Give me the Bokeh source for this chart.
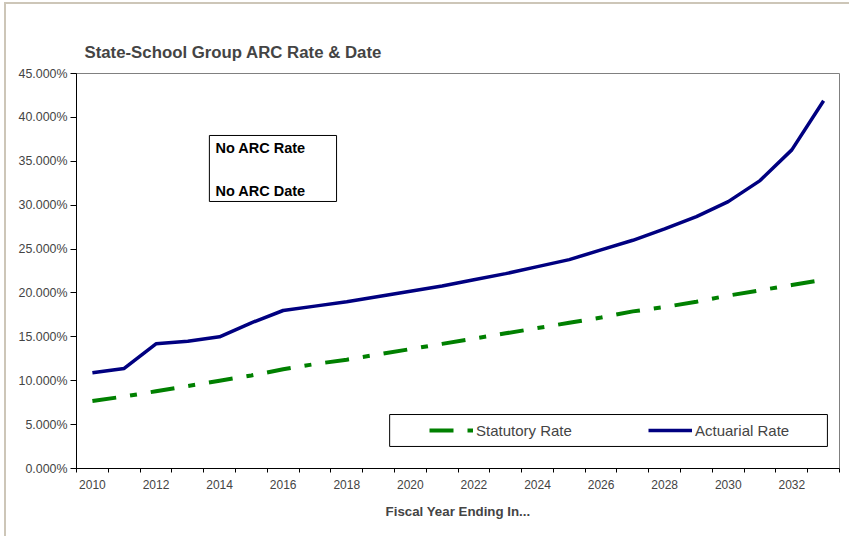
from bokeh.plotting import figure
from bokeh.models import (Range1d, FixedTicker, PrintfTickFormatter, Legend, LegendItem,
                          BoxAnnotation, Label)
from bokeh.embed import file_html
from bokeh.resources import INLINE

# ---- data ----
years = list(range(2010, 2034))
statutory_rate = [7.7, 8.2, 8.8, 9.4, 10.0, 10.6, 11.3, 11.9, 12.4, 13.0, 13.6, 14.2,
                  14.8, 15.4, 16.0, 16.6, 17.2, 17.9, 18.4, 19.0, 19.7, 20.3, 20.9, 21.5]
actuarial_rate = [10.9, 11.4, 14.2, 14.5, 15.0, 16.6, 18.0, 18.5, 19.0, 19.6, 20.2, 20.8,
                  21.5, 22.2, 23.0, 23.8, 24.9, 26.0, 27.3, 28.7, 30.4, 32.8, 36.3, 41.9]
x_tick_labels = list(range(2010, 2033, 2))
y_ticks = [0, 5, 10, 15, 20, 25, 30, 35, 40, 45]

FONT = "Liberation Sans"

p = figure(width=849, height=536, output_backend="svg", toolbar_location=None,
           x_range=Range1d(years[0] - 0.5, years[-1] + 0.5), y_range=Range1d(0, 45),
           min_border_left=76, min_border_right=10, min_border_top=73, min_border_bottom=68)

p.border_fill_color = None
p.background_fill_color = "white"
p.outline_line_color = "#808080"
p.outline_line_width = 1
p.grid.visible = False
p.styles = {"box-shadow": "inset 4px 2px 0 0 white, inset 6px 4px 0 0 #cdc6b8, "
                          "-1px -3px 0 0 white, -3px -5px 0 0 #b9b1a1"}

# title
p.title.text = "State-School Group ARC Rate & Date"
p.title.text_font = FONT
p.title.text_font_size = "16.8px"
p.title.text_font_style = "bold"
p.title.align = "left"
p.title.offset = 8
p.title.standoff = 23

# x axis
xa = p.xaxis[0]
xa.ticker = FixedTicker(ticks=x_tick_labels, minor_ticks=[y - 0.5 for y in years] + [years[-1] + 0.5])
xa.major_tick_line_color = None
xa.major_tick_out = 4
xa.major_tick_in = 0
xa.minor_tick_line_color = "black"
xa.minor_tick_out = 4
xa.minor_tick_in = 0
xa.axis_line_color = "black"
xa.major_label_text_font = FONT
xa.major_label_text_font_size = "12px"
xa.major_label_standoff = 7
xa.axis_label = "Fiscal Year Ending In..."
xa.axis_label_text_font = FONT
xa.axis_label_text_font_size = "13.3px"
xa.axis_label_text_font_style = "bold"
xa.axis_label_standoff = 12

# y axis
ya = p.yaxis[0]
ya.ticker = FixedTicker(ticks=y_ticks, minor_ticks=[])
ya.formatter = PrintfTickFormatter(format="%.3f%%")
ya.major_tick_out = 6
ya.major_tick_in = 0
ya.minor_tick_line_color = None
ya.axis_line_color = "black"
ya.major_label_text_font = FONT
ya.major_label_text_font_size = "12.4px"
ya.major_label_standoff = 3

# series
r_stat = p.line(years, statutory_rate, line_color="#008000", line_width=4,
                line_dash="24 14 7 14")
r_act = p.line(years, actuarial_rate, line_color="#000080", line_width=3.5)

# "No ARC" box
p.add_layout(BoxAnnotation(left=2013.68, right=2017.68, bottom=30.42, top=37.94,
                           fill_color="white", fill_alpha=1, line_color="black",
                           line_alpha=1, line_width=1))
for txt, yy in (("No ARC Rate", 36.46), ("No ARC Date", 31.56)):
    p.add_layout(Label(x=2013.87, y=yy, text=txt, text_font=FONT, text_font_size="14.5px",
                       text_font_style="bold", text_baseline="middle", text_color="black"))

# legend box and entries
p.add_layout(BoxAnnotation(left=2019.35, right=2033.12, bottom=2.51, top=6.15,
                           fill_color="white", fill_alpha=1, line_color="black",
                           line_alpha=1, line_width=1))
for item, loc in ((LegendItem(label="Statutory Rate", renderers=[r_stat]), (353, 28)),
                  (LegendItem(label="Actuarial Rate", renderers=[r_act]), (572, 28))):
    lg = Legend(items=[item], location=loc, orientation="horizontal",
                border_line_color=None, background_fill_alpha=0, padding=0, margin=0,
                glyph_width=44, glyph_height=20, label_height=20, label_standoff=3,
                label_text_font=FONT, label_text_font_size="15px")
    p.add_layout(lg)

open("out.html", "w").write(file_html(p, INLINE))
